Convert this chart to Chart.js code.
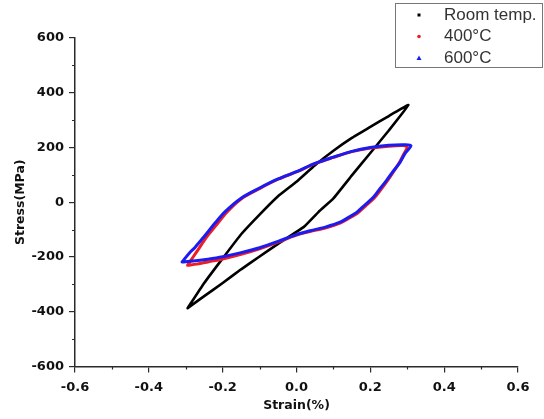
<!DOCTYPE html>
<html lang="en">
<head>
    <meta charset="UTF-8">
    <script src="https://cdn.jsdelivr.net/npm/chart.js"></script>
    <style>
        body, html {
            margin: 0;
            padding: 0;
            background: #fff;
        }
        #wrap {
            width: 544px;
            height: 419px;
        }
    </style>
</head>
<body>
    <div id="wrap"><canvas id="chart" width="544" height="419"></canvas></div>
    <script>
        // series names, as in the legend
        const seriesNames = ['Room temp.', '400\u00B0C', '600\u00B0C'];

        // Room temp. loop: loading branch (bottom tip -> top tip), then unloading back
        const roomStrain = [-0.295, -0.25, -0.20, -0.15, -0.10, -0.05, 0.0, 0.05, 0.10, 0.15, 0.20, 0.25, 0.303,
                            0.25, 0.20, 0.15, 0.10, 0.06, 0.02, -0.05, -0.10, -0.15, -0.20, -0.25, -0.295];
        const roomStress = [-387, -295, -205, -117, -45, 22, 75, 135, 188, 235, 275, 315, 355,
                            262, 180, 98, 14, -35, -90, -152, -198, -245, -295, -343, -387];

        // 400°C loop
        const strain400 = [-0.295, -0.28, -0.265, -0.245, -0.215, -0.19, -0.15, -0.10, -0.05, 0.0, 0.05, 0.10, 0.15, 0.20, 0.25, 0.29, 0.30,
                           0.29, 0.28, 0.262, 0.246, 0.228, 0.21, 0.188, 0.165, 0.14, 0.118, 0.08, 0.037, 0.0, -0.05, -0.10, -0.15, -0.20, -0.24, -0.27, -0.295];
        const stress400 = [-230, -200, -170, -130, -80, -38, 12, 50, 84, 111, 141, 164, 185, 198, 205, 207, 202,
                           175, 148, 110, 78, 45, 15, -12, -40, -60, -76, -93, -107, -120, -146, -170, -190, -207, -218, -226, -230];

        // 600°C loop
        const strain600 = [-0.31, -0.29, -0.275, -0.25, -0.22, -0.194, -0.15, -0.10, -0.05, 0.0, 0.05, 0.10, 0.15, 0.20, 0.25, 0.29, 0.31,
                           0.295, 0.28, 0.26, 0.244, 0.225, 0.208, 0.185, 0.163, 0.14, 0.118, 0.08, 0.037, 0.0, -0.05, -0.10, -0.15, -0.20, -0.24, -0.28, -0.31];
        const stress600 = [-218, -185, -165, -125, -75, -35, 15, 52, 85, 112, 142, 165, 186, 200, 208, 210, 207,
                           180, 145, 110, 80, 48, 18, -10, -37, -56, -73, -90, -104, -118, -143, -166, -184, -199, -208, -215, -218];

        // axis ticks
        const xTicks = [-0.6, -0.4, -0.2, 0.0, 0.2, 0.4, 0.6];
        const xTickLabels = ['-0.6', '-0.4', '-0.2', '0.0', '0.2', '0.4', '0.6'];
        const xMinorTicks = [-0.5, -0.3, -0.1, 0.1, 0.3, 0.5];
        const yTicks = [-600, -400, -200, 0, 200, 400, 600];
        const yTickLabels = ['-600', '-400', '-200', '0', '200', '400', '600'];
        const yMinorTicks = [-500, -300, -100, 100, 300, 500];

        const toPoints = (xs, ys) => xs.map((x, i) => ({ x: x, y: ys[i] }));

        const axisColor = '#2a2a2a';
        const tickFont = { family: '"DejaVu Sans", Verdana, sans-serif', size: 13, weight: 'bold' };
        const titleFont = { family: '"DejaVu Sans", Verdana, sans-serif', size: 12.5, weight: 'bold' };

        // minor ticks (short, outward) drawn from the chart's own scales
        const minorTicks = {
            id: 'minorTicks',
            afterDraw(chart) {
                const ctx = chart.ctx;
                const xs = chart.scales.x, ys = chart.scales.y;
                ctx.save();
                ctx.strokeStyle = axisColor;
                ctx.lineWidth = 1.2;
                ctx.beginPath();
                xMinorTicks.forEach(v => {
                    const px = Math.round(xs.getPixelForValue(v)) + 0.5;
                    ctx.moveTo(px, xs.top);
                    ctx.lineTo(px, xs.top + 3);
                });
                yMinorTicks.forEach(v => {
                    const py = Math.round(ys.getPixelForValue(v)) + 0.5;
                    ctx.moveTo(ys.right, py);
                    ctx.lineTo(ys.right - 3, py);
                });
                ctx.stroke();
                ctx.restore();
            }
        };

        // boxed legend in the top right corner
        const legendBox = {
            id: 'legendBox',
            afterDraw(chart) {
                const ctx = chart.ctx;
                const rowY = [15, 36.5, 58];
                const markX = 419;
                ctx.save();
                ctx.strokeStyle = '#777';
                ctx.lineWidth = 1;
                ctx.strokeRect(395.5, 3.5, 147, 64);

                // markers
                ctx.fillStyle = '#000';
                ctx.fillRect(markX - 1.5, rowY[0] - 1.5, 3, 3);
                ctx.fillStyle = '#ee1c25';
                ctx.beginPath();
                ctx.arc(markX, rowY[1], 1.8, 0, Math.PI * 2);
                ctx.fill();
                ctx.fillStyle = '#1c1cf0';
                ctx.beginPath();
                ctx.moveTo(markX, rowY[2] - 2.5);
                ctx.lineTo(markX + 2.5, rowY[2] + 2);
                ctx.lineTo(markX - 2.5, rowY[2] + 2);
                ctx.closePath();
                ctx.fill();

                ctx.fillStyle = '#333';
                ctx.font = '17px "Liberation Sans", Arial, sans-serif';
                ctx.textBaseline = 'middle';
                ctx.textAlign = 'left';
                seriesNames.forEach((name, i) => ctx.fillText(name, 444, rowY[i]));
                ctx.restore();
            }
        };

        new Chart(document.getElementById('chart'), {
            type: 'scatter',
            data: {
                datasets: [
                    {
                        label: seriesNames[0],
                        data: toPoints(roomStrain, roomStress),
                        borderColor: '#000',
                        backgroundColor: '#000',
                        borderWidth: 2.6,
                        showLine: true,
                        pointRadius: 0,
                        tension: 0.1,
                        order: 3
                    },
                    {
                        label: seriesNames[1],
                        data: toPoints(strain400, stress400),
                        borderColor: '#ee1c25',
                        backgroundColor: '#ee1c25',
                        borderWidth: 3,
                        showLine: true,
                        pointRadius: 0,
                        tension: 0.3,
                        order: 2
                    },
                    {
                        label: seriesNames[2],
                        data: toPoints(strain600, stress600),
                        borderColor: '#1c1cf0',
                        backgroundColor: '#1c1cf0',
                        borderWidth: 3,
                        showLine: true,
                        pointRadius: 0,
                        tension: 0.3,
                        order: 1
                    }
                ]
            },
            options: {
                responsive: false,
                animation: false,
                layout: {
                    padding: { left: 0, top: 38, right: 26, bottom: 0 }
                },
                elements: {
                    line: { borderJoinStyle: 'round', borderCapStyle: 'round' }
                },
                plugins: {
                    legend: { display: false },
                    tooltip: { enabled: false }
                },
                scales: {
                    x: {
                        type: 'linear',
                        min: -0.6,
                        max: 0.6,
                        afterBuildTicks: s => { s.ticks = xTicks.map(v => ({ value: v })); },
                        afterFit: s => { s.height = 52.5; },
                        ticks: {
                            color: '#111',
                            font: tickFont,
                            padding: 7,
                            maxRotation: 0,
                            callback: (v, i) => xTickLabels[i]
                        },
                        grid: {
                            drawOnChartArea: false,
                            drawTicks: true,
                            tickLength: 6,
                            color: axisColor,
                            lineWidth: 1.2
                        },
                        border: { display: true, color: axisColor, width: 1.5 },
                        title: {
                            display: true,
                            text: 'Strain(%)',
                            color: '#111',
                            font: titleFont,
                            padding: { top: 0, bottom: 6 }
                        }
                    },
                    y: {
                        type: 'linear',
                        min: -600,
                        max: 600,
                        afterBuildTicks: s => { s.ticks = yTicks.map(v => ({ value: v })); },
                        afterFit: s => { s.width = 75; },
                        ticks: {
                            color: '#111',
                            font: tickFont,
                            padding: 5,
                            callback: (v, i) => yTickLabels[i]
                        },
                        grid: {
                            drawOnChartArea: false,
                            drawTicks: true,
                            tickLength: 6,
                            color: axisColor,
                            lineWidth: 1.2
                        },
                        border: { display: true, color: axisColor, width: 1.5 },
                        title: {
                            display: true,
                            text: 'Stress(MPa)',
                            color: '#111',
                            font: titleFont,
                            padding: { top: 13, bottom: 0 }
                        }
                    }
                }
            },
            plugins: [minorTicks, legendBox]
        });
    </script>
</body>
</html>
